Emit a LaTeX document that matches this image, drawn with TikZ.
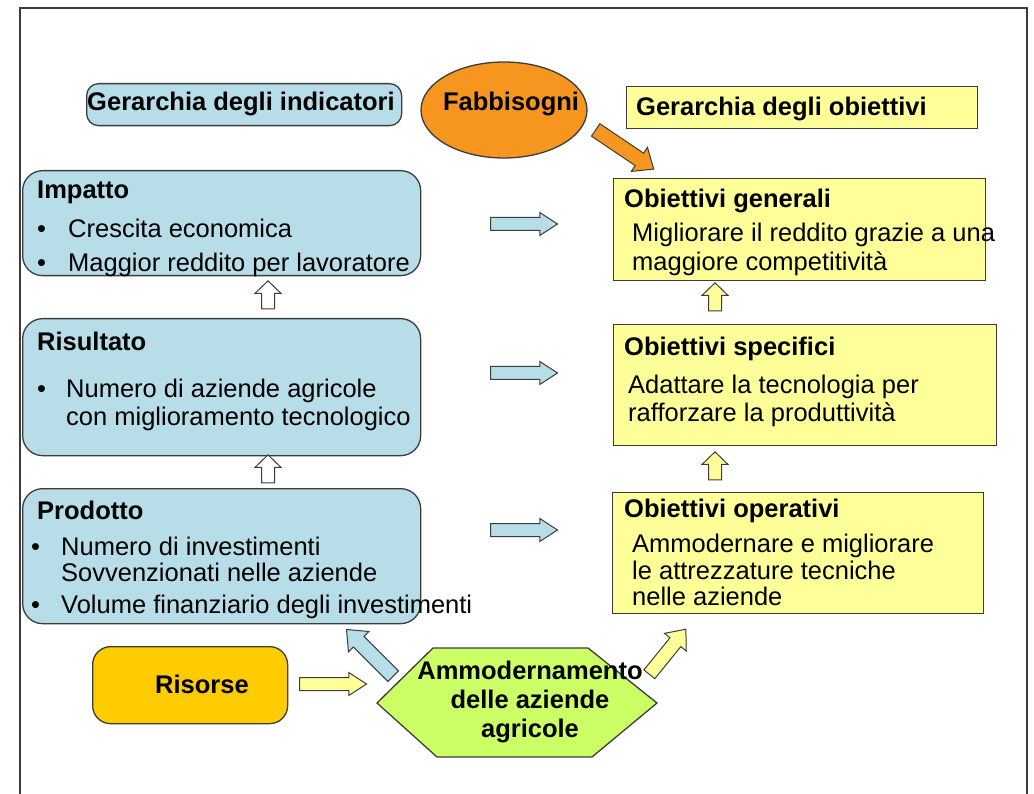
\documentclass[tikz,border=0pt]{standalone}
\usepackage{fontspec}
\setmainfont{Liberation Sans}
\usetikzlibrary{shapes.arrows,shapes.geometric}
\definecolor{lblue}{RGB}{183,221,232}
\definecolor{lyel}{RGB}{255,255,153}
\definecolor{orng}{RGB}{247,150,30}
\definecolor{gold}{RGB}{255,204,0}
\definecolor{lgreen}{RGB}{204,255,102}
\definecolor{edgec}{RGB}{60,60,60}
\begin{document}
\begin{tikzpicture}[x=1pt,y=-1pt,
  every node/.style={font=\fontsize{25.5}{30}\selectfont},
  txt/.style={anchor=base west, inner sep=0pt},
  ttl/.style={txt, font=\fontsize{25.5}{30}\selectfont\bfseries},
  bul/.style={anchor=base west, inner sep=0pt, font=\fontsize{25.5}{30}\selectfont},
  bluebox/.style={draw=edgec, line width=1.3pt, fill=lblue, rounded corners=20pt, anchor=north west, inner sep=0pt},
  yelbox/.style={draw=edgec, line width=1.3pt, fill=lyel, anchor=north west, inner sep=0pt},
  blkarrow/.style={single arrow, draw=edgec, line width=1pt, inner xsep=0pt, anchor=center},
  harrow/.style={blkarrow, inner ysep=6pt, minimum height=67pt, minimum width=22pt, single arrow head extend=5pt, single arrow tip angle=66},
  uparrow/.style={blkarrow, rotate=90, inner ysep=6pt, minimum height=28pt, minimum width=25pt, single arrow head extend=6.5pt, single arrow tip angle=92},
]
\useasboundingbox (0,0) rectangle (1034,794);
\fill[white] (0,0) rectangle (1034,794);
% frame
\coordinate (f1) at (20,800);
\coordinate (f2) at (20,8);
\coordinate (f3) at (1027,8);
\coordinate (f4) at (1027,800);
\draw[line width=2pt, edgec] (f1) -- (f2) -- (f3) -- (f4);

% headers
\node[bluebox, rounded corners=12pt, minimum width=315pt, minimum height=42pt] (hind) at (86,83) {};
\node[anchor=center, inner sep=0pt, font=\fontsize{25.5}{30}\selectfont\bfseries] (hindt) at (241,104) {Gerarchia degli indicatori};
\node[draw=edgec, line width=1.3pt, fill=orng, ellipse, minimum width=166pt, minimum height=96pt, inner sep=0pt] (fab) at (504,110) {};
\node[anchor=center, inner sep=0pt, font=\fontsize{25.5}{30}\selectfont\bfseries] (fabt) at (511,104) {Fabbisogni};
\node[yelbox, minimum width=351pt, minimum height=42pt] (hobj) at (626,86) {};
\node[ttl] (hobjt) at (636,116) {Gerarchia degli obiettivi};

% left boxes
\node[bluebox, minimum width=398pt, minimum height=105pt] (imp) at (22,170) {};
\node[ttl] (impt) at (37,199) {Impatto};
\node[bul] (impb1) at (37,238) {•};
\node[txt] (imp1) at (68,238) {Crescita economica};
\node[bul] (impb2) at (37,272) {•};
\node[txt] (imp2) at (68,272) {Maggior reddito per lavoratore};

\node[bluebox, minimum width=398pt, minimum height=137pt] (ris) at (22,318) {};
\node[ttl] (rist) at (37,351) {Risultato};
\node[bul] (risb1) at (37,397) {•};
\node[txt] (ris1) at (66,397) {Numero di aziende agricole};
\node[txt] (ris2) at (66,425) {con miglioramento tecnologico};

\node[bluebox, minimum width=398pt, minimum height=135pt] (pro) at (22,488) {};
\node[ttl] (prot) at (37,519) {Prodotto};
\node[bul] (prob1) at (31,555) {•};
\node[txt] (pro1) at (61,555) {Numero di investimenti};
\node[txt] (pro2) at (61,581) {Sovvenzionati nelle aziende};
\node[bul] (prob2) at (31,613) {•};
\node[txt] (pro3) at (61,613) {Volume finanziario degli investimenti};

% right boxes
\node[yelbox, minimum width=372pt, minimum height=102pt] (gen) at (613,178) {};
\node[ttl] (gent) at (624,208) {Obiettivi generali};
\node[txt] (gen1) at (632,242) {Migliorare il reddito grazie a una};
\node[txt] (gen2) at (632,271) {maggiore competitività};

\node[yelbox, minimum width=383pt, minimum height=121pt] (spe) at (613,324) {};
\node[ttl] (spet) at (624,356) {Obiettivi specifici};
\node[txt] (spe1) at (628,394) {Adattare la tecnologia per};
\node[txt] (spe2) at (628,421) {rafforzare la produttività};

\node[yelbox, minimum width=371pt, minimum height=121pt] (ope) at (612,492) {};
\node[ttl] (opet) at (624,517) {Obiettivi operativi};
\node[txt] (ope1) at (632,552) {Ammodernare e migliorare};
\node[txt] (ope2) at (632,579) {le attrezzature tecniche};
\node[txt] (ope3) at (632,605) {nelle aziende};

% bottom
\node[draw=edgec, line width=1.3pt, fill=gold, rounded corners=18pt, minimum width=195pt, minimum height=77pt, anchor=north west, inner sep=0pt] (ris0) at (92,646) {};
\node[anchor=center, inner sep=0pt, font=\fontsize{25.5}{30}\selectfont\bfseries] (risor) at (202,684) {Risorse};
\coordinate (h1) at (377,703);
\coordinate (h2) at (433,648);
\coordinate (h3) at (588,648);
\coordinate (h4) at (657,703);
\coordinate (h5) at (592,757);
\coordinate (h6) at (437,757);
\draw[line width=1.3pt, draw=edgec, fill=lgreen] (h1) -- (h2) -- (h3) -- (h4) -- (h5) -- (h6) -- cycle;
\node[anchor=center, inner sep=0pt, align=center, font=\fontsize{25.5}{29}\selectfont\bfseries] (hex) at (530,702) {Ammodernamento\\delle aziende\\agricole};

% block arrows
\node[harrow, fill=lblue] (a1) at (519,224) {};
\node[harrow, fill=lblue] (a2) at (519,373) {};
\node[harrow, fill=lblue] (a3) at (519,530) {};
\node[uparrow, fill=white] (u1) at (268,298) {};
\node[uparrow, fill=white] (u2) at (268,472) {};
\node[uparrow, fill=lyel] (u3) at (715,300) {};
\node[uparrow, fill=lyel] (u4) at (715,469) {};
\node[harrow, fill=lyel] (ar) at (328,684) {};
\node[blkarrow, fill=orng, rotate=-34, inner ysep=7pt, minimum height=70pt, minimum width=28pt, single arrow head extend=7pt, single arrow tip angle=80] (ao) at (621,147) {};
\node[blkarrow, fill=lblue, rotate=135, inner ysep=7pt, minimum height=66pt, minimum width=28pt, single arrow head extend=7pt, single arrow tip angle=80] (ab) at (373,656) {};
\node[blkarrow, fill=lyel, rotate=51, inner ysep=6.5pt, minimum height=58pt, minimum width=27pt, single arrow head extend=7pt, single arrow tip angle=80] (ay) at (665,655) {};
\end{tikzpicture}
\end{document}
